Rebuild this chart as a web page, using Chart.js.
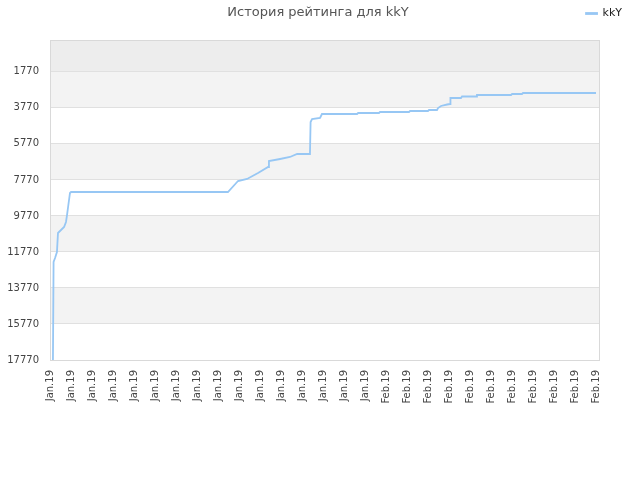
<!DOCTYPE html>
<html>
<head>
<meta charset="utf-8">
<script src="https://cdn.jsdelivr.net/npm/chart.js@4/dist/chart.umd.min.js"></script>
<style>
  body { margin: 0; background: #fff; }
  #wrap { width: 640px; height: 480px; }
</style>
</head>
<body>
<div id="wrap"><canvas id="ratingChart" width="640" height="480"></canvas></div>
<script>
// rating history of kkY, x is position along the date axis (one unit per label)
const playerName = "kkY";
const chartTitle = "История рейтинга для kkY";
const tickLabels = [
  "Jan.19", "Jan.19", "Jan.19", "Jan.19", "Jan.19", "Jan.19", "Jan.19", "Jan.19",
  "Jan.19", "Jan.19", "Jan.19", "Jan.19", "Jan.19", "Jan.19", "Jan.19", "Jan.19",
  "Feb.19", "Feb.19", "Feb.19", "Feb.19", "Feb.19", "Feb.19", "Feb.19", "Feb.19",
  "Feb.19", "Feb.19", "Feb.19"
];
const yTicks = [1770, 3770, 5770, 7770, 9770, 11770, 13770, 15770, 17770];
const days = [
  0.14, 0.17, 0.24, 0.33, 0.38, 0.67, 0.76, 0.81, 0.86, 0.95, 1.0,
  8.46, 8.94, 9.37, 9.89, 10.37, 10.41, 10.94, 11.41, 11.75, 12.36,
  12.39, 12.46, 12.84, 12.93, 14.60, 14.65, 15.64, 15.69, 17.07, 17.12,
  17.97, 18.02, 18.40, 18.45, 18.59, 18.88, 19.02, 19.04, 19.54, 19.59,
  20.26, 20.30, 21.92, 21.97, 22.44, 22.49, 25.96
];
const ratings = [
  17770, 12328, 12106, 11772, 10717, 10384, 10106, 9718, 9274, 8496, 8441,
  8441, 7830, 7719, 7386, 7052, 6719, 6608, 6497, 6330, 6330,
  4553, 4387, 4331, 4109, 4109, 4054, 4054, 3998, 3998, 3943,
  3943, 3887, 3887, 3776, 3665, 3582, 3554, 3221, 3221, 3137,
  3137, 3054, 3054, 2999, 2999, 2943, 2943
];

const lineColor = "#97c7f4";
const fontFamily = "'DejaVu Sans', sans-serif";

const bandsPlugin = {
  id: "bands",
  beforeDraw(chart) {
    const { ctx, chartArea: a, scales: { y } } = chart;
    ctx.save();
    // area above the first tick
    ctx.fillStyle = "#ededed";
    ctx.fillRect(a.left, a.top, a.right - a.left, y.getPixelForValue(yTicks[0]) - a.top);
    for (let k = 0; k < yTicks.length - 1; k += 2) {
      const t = y.getPixelForValue(yTicks[k]);
      const b = y.getPixelForValue(yTicks[k + 1]);
      ctx.fillStyle = "#f3f3f3";
      ctx.fillRect(a.left, t, a.right - a.left, b - t);
    }
    ctx.restore();
  },
  beforeDatasetsDraw(chart) {
    const { ctx, chartArea: a } = chart;
    ctx.save();
    ctx.strokeStyle = "#d9d9d9";
    ctx.lineWidth = 1;
    ctx.strokeRect(a.left + 0.5, a.top + 0.5, a.right - a.left - 1, a.bottom - a.top);
    ctx.restore();
  },
  afterDraw(chart) {
    const { ctx } = chart;
    ctx.save();
    ctx.fillStyle = "#555";
    ctx.font = "13px " + fontFamily;
    ctx.textAlign = "center";
    ctx.textBaseline = "middle";
    ctx.fillText(chartTitle, 318, 13);
    ctx.restore();
  }
};

// legend row is 40px tall and sits further right than the plot
const legendPlace = {
  id: "legendPlace",
  beforeInit(chart) {
    const fit = chart.legend.fit;
    chart.legend.fit = function () {
      fit.bind(chart.legend)();
      this.height = 40;
    };
  },
  afterLayout(chart) {
    chart.legend.right = 630;
    chart.legend.width = chart.legend.right - chart.legend.left;
  }
};

new Chart(document.getElementById("ratingChart"), {
  type: "line",
  data: {
    datasets: [{
      label: playerName,
      data: days.map((d, i) => ({ x: d, y: ratings[i] })),
      borderColor: lineColor,
      backgroundColor: lineColor,
      borderWidth: 1.8,
      pointRadius: 0,
      tension: 0,
      fill: false
    }]
  },
  options: {
    responsive: false,
    animation: false,
    layout: { padding: { left: 6, right: 40, top: 0, bottom: 0 } },
    plugins: {
      title: { display: false },
      tooltip: { enabled: false },
      legend: {
        position: "top",
        align: "end",
        labels: {
          boxWidth: 11,
          boxHeight: 1,
          padding: 8,
          color: "#222",
          font: { family: fontFamily, size: 11 }
        }
      }
    },
    scales: {
      x: {
        type: "linear",
        min: 0,
        max: 26.15,
        afterFit(scale) { scale.height = 120; },
        afterBuildTicks(scale) {
          scale.ticks = tickLabels.map((_, i) => ({ value: i }));
        },
        ticks: {
          autoSkip: false,
          minRotation: 90,
          maxRotation: 90,
          padding: 10,
          color: "#444",
          font: { family: fontFamily, size: 10 },
          callback: (v) => tickLabels[v]
        },
        grid: { display: false, drawTicks: false },
        border: { display: false }
      },
      y: {
        reverse: true,
        min: 0,
        max: 17770,
        afterFit(scale) { scale.width = 44; },
        afterBuildTicks(scale) {
          scale.ticks = yTicks.map((v) => ({ value: v }));
        },
        ticks: {
          padding: 11,
          color: "#444",
          font: { family: fontFamily, size: 10 },
          callback: (v) => String(v)
        },
        grid: { color: "#e0e0e0", drawTicks: false },
        border: { display: false }
      }
    }
  },
  plugins: [bandsPlugin, legendPlace]
});
</script>
</body>
</html>
